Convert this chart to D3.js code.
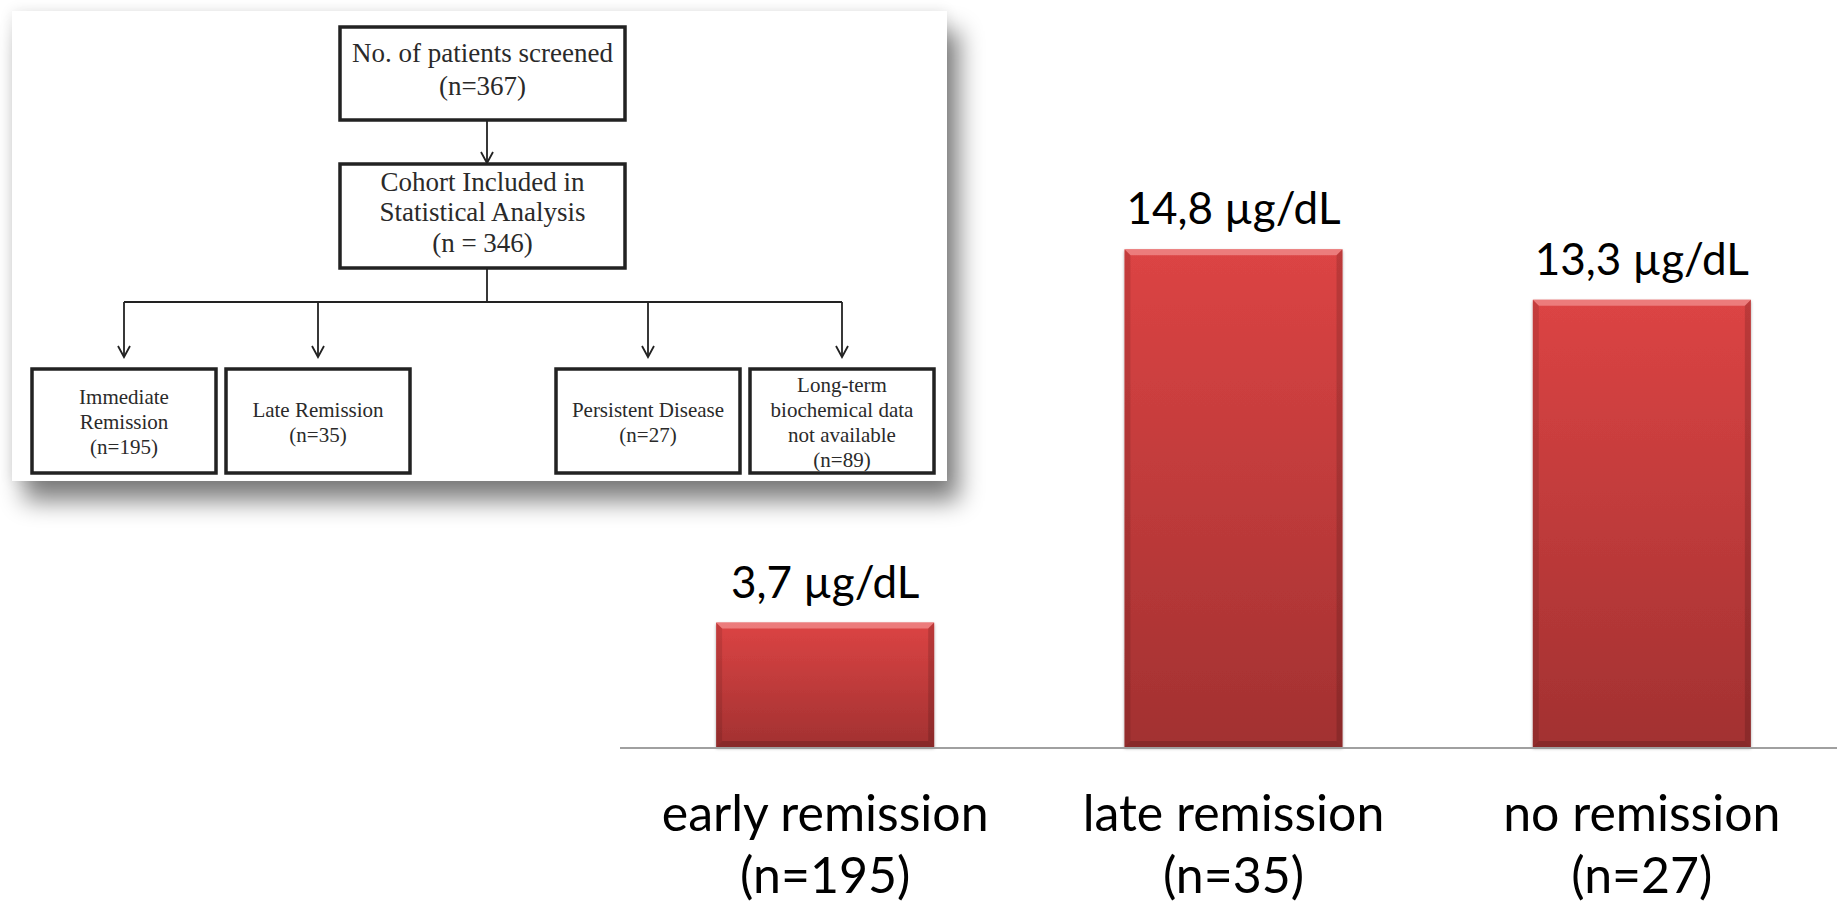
<!DOCTYPE html>
<html><head><meta charset="utf-8">
<script src="https://cdn.jsdelivr.net/npm/d3@7"></script>
<style>
html,body{margin:0;padding:0;background:#fff;overflow:hidden}
svg{display:block}
</style></head>
<body>
<svg id="c" width="1837" height="906"></svg>
<script>
// ---------- data ----------
const categories = ["early remission", "late remission", "no remission"];
const groupSizes = ["(n=195)", "(n=35)", "(n=27)"];
const cortisolValues = [3.7, 14.8, 13.3];
const valueLabels = ["3,7 µg/dL", "14,8 µg/dL", "13,3 µg/dL"];

const flowScreened = ["No. of patients screened", "(n=367)"];
const flowCohort = ["Cohort Included in", "Statistical Analysis", "(n = 346)"];
const flowOutcomes = [
  ["Immediate", "Remission", "(n=195)"],
  ["Late Remission", "(n=35)"],
  ["Persistent Disease", "(n=27)"],
  ["Long-term", "biochemical data", "not available", "(n=89)"]
];

// ---------- setup ----------
const svg = d3.select("#c");
const defs = svg.append("defs");

const sh = defs.append("filter").attr("id","panelShadow")
  .attr("filterUnits","userSpaceOnUse")
  .attr("x",-20).attr("y",-20).attr("width",1080).attr("height",620);
sh.append("feGaussianBlur").attr("in","SourceAlpha").attr("stdDeviation",7).attr("result","halo");
sh.append("feOffset").attr("in","SourceAlpha").attr("dx",12).attr("dy",20).attr("result","off");
sh.append("feGaussianBlur").attr("in","off").attr("stdDeviation",12).attr("result","blur");
sh.append("feComponentTransfer").attr("in","blur").attr("result","dark")
  .append("feFuncA").attr("type","linear").attr("slope",0.5);
sh.append("feComponentTransfer").attr("in","halo").attr("result","haloL")
  .append("feFuncA").attr("type","linear").attr("slope",0.1);
const m = sh.append("feMerge");
m.append("feMergeNode").attr("in","haloL");
m.append("feMergeNode").attr("in","dark");
m.append("feMergeNode").attr("in","SourceGraphic");

const barShadow = defs.append("filter").attr("id","barShadow")
  .attr("x","-10%").attr("y","-10%").attr("width","120%").attr("height","120%");
barShadow.append("feDropShadow").attr("dx",0).attr("dy",1.5).attr("stdDeviation",1.5)
  .attr("flood-color","#000").attr("flood-opacity",0.35);

const grad = defs.append("linearGradient").attr("id","barGrad")
  .attr("x1",0).attr("y1",0).attr("x2",0).attr("y2",1);
grad.append("stop").attr("offset","0%").attr("stop-color","#dc4444");
grad.append("stop").attr("offset","100%").attr("stop-color","#a23131");

// ---------- flowchart panel ----------
const flow = svg.append("g").attr("class","flow");
flow.append("rect").attr("x",12).attr("y",11).attr("width",935).attr("height",470)
  .attr("fill","#fff").attr("filter","url(#panelShadow)");

const ink = "#222";
const serif = "'Liberation Serif','Times New Roman',serif";

function box(x, y, w, h, lines, fs, spacing, off){
  flow.append("rect").attr("x",x).attr("y",y).attr("width",w).attr("height",h)
    .attr("fill","#fff").attr("stroke",ink).attr("stroke-width",3.5);
  const cy = y + h/2, cx = x + w/2;
  flow.selectAll(null).data(lines).enter().append("text")
    .attr("x",cx)
    .attr("y",(d,i)=> cy + (i-(lines.length-1)/2)*spacing + off)
    .attr("text-anchor","middle")
    .attr("font-family",serif).attr("font-size",fs).attr("fill","#2a2a2a")
    .text(d=>d);
}
function arrow(x, y0, y1){
  flow.append("line").attr("x1",x).attr("x2",x).attr("y1",y0).attr("y2",y1)
    .attr("stroke",ink).attr("stroke-width",1.8);
  flow.append("polyline").attr("points",`${x-6},${y1-11} ${x},${y1} ${x+6},${y1-11}`)
    .attr("fill","none").attr("stroke",ink).attr("stroke-width",1.8);
}

box(340, 27, 285, 93, flowScreened, 27, 33, 5);
arrow(487, 120, 163);
box(340, 164, 285, 104, flowCohort, 27, 30.5, 5);
flow.append("line").attr("x1",487).attr("x2",487).attr("y1",268).attr("y2",302)
  .attr("stroke",ink).attr("stroke-width",1.8);

const leafX = [32, 226, 556, 750];
const leafW = 184;
flow.append("line").attr("x1",leafX[0]+leafW/2).attr("x2",leafX[3]+leafW/2)
  .attr("y1",302).attr("y2",302).attr("stroke",ink).attr("stroke-width",2);
flowOutcomes.forEach((lines,i)=>{
  arrow(leafX[i]+leafW/2, 302, 357);
  box(leafX[i], 369, leafW, 104, lines, 21, 25, 8);
});

// ---------- bar chart ----------
const x = d3.scaleBand().domain(categories).range([621, 1846])
  .paddingInner(0.466).paddingOuter(0.233);
const y = d3.scaleLinear().domain([0, 16]).range([747, 209]);

const sans = "Lato,'Open Sans',sans-serif";
const data = categories.map((c,i)=>({c, v:cortisolValues[i], lab:valueLabels[i], n:groupSizes[i]}));

const bars = svg.append("g").attr("class","bars");
const bg = bars.selectAll("g.bar").data(data).enter().append("g").attr("class","bar");
bg.append("rect")
  .attr("x",d=>x(d.c)).attr("y",d=>y(d.v))
  .attr("width",x.bandwidth()).attr("height",d=>y(0)-y(d.v))
  .attr("fill","url(#barGrad)").attr("filter","url(#barShadow)");

// bevel edges
const b = 6;
bg.each(function(d){
  const g = d3.select(this);
  const x0 = x(d.c), x1 = x0 + x.bandwidth(), y0 = y(d.v), y1 = y(0);
  g.append("polygon").attr("points",`${x0},${y0} ${x1},${y0} ${x1-b},${y0+b} ${x0+b},${y0+b}`)
    .attr("fill","#f08a8a").attr("opacity",0.8);
  g.append("polygon").attr("points",`${x0},${y0} ${x0+b},${y0+b} ${x0+b},${y1-b} ${x0},${y1}`)
    .attr("fill","#000").attr("opacity",0.10);
  g.append("polygon").attr("points",`${x1},${y0} ${x1-b},${y0+b} ${x1-b},${y1-b} ${x1},${y1}`)
    .attr("fill","#000").attr("opacity",0.14);
  g.append("polygon").attr("points",`${x0},${y1} ${x0+b},${y1-b} ${x1-b},${y1-b} ${x1},${y1}`)
    .attr("fill","#000").attr("opacity",0.16);
});

// baseline
svg.append("line").attr("x1",620).attr("x2",1837).attr("y1",748).attr("y2",748)
  .attr("stroke","#a0a0a0").attr("stroke-width",2);

// value labels
bars.selectAll("text.val").data(data).enter().append("text").attr("class","val")
  .attr("x",d=>x(d.c)+x.bandwidth()/2).attr("y",d=>y(d.v)-25)
  .attr("text-anchor","middle").attr("font-family",sans).attr("font-size",44)
  .attr("fill","#000").text(d=>d.lab);

// category labels
const xAxis = svg.append("g").attr("class","xlabels");
xAxis.selectAll("text.cat").data(data).enter().append("text").attr("class","cat")
  .attr("x",d=>x(d.c)+x.bandwidth()/2).attr("y",831)
  .attr("text-anchor","middle").attr("font-family",sans).attr("font-size",50)
  .attr("fill","#000").text(d=>d.c);
xAxis.selectAll("text.n").data(data).enter().append("text").attr("class","n")
  .attr("x",d=>x(d.c)+x.bandwidth()/2).attr("y",893)
  .attr("text-anchor","middle").attr("font-family",sans).attr("font-size",50)
  .attr("fill","#000").text(d=>d.n);
</script>
</body></html>
